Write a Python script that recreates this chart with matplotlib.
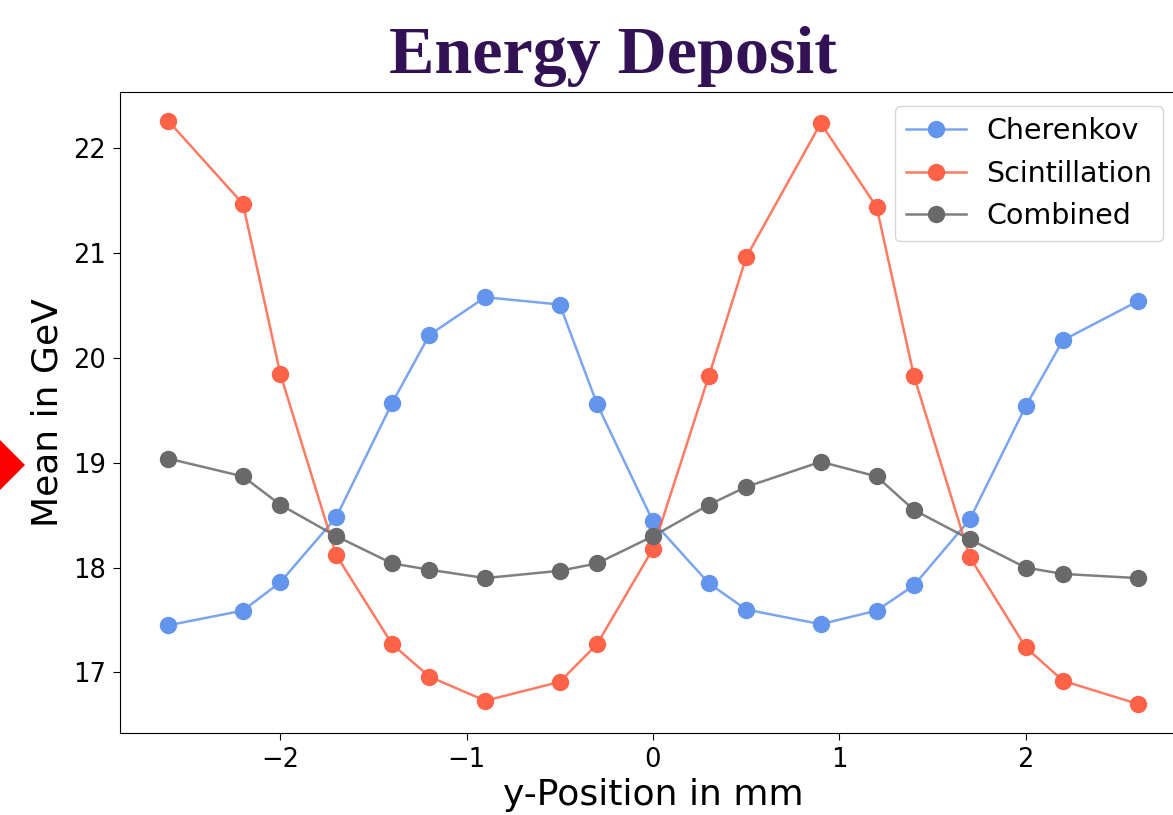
import matplotlib
matplotlib.use("Agg")
import matplotlib.pyplot as plt
from matplotlib.patches import Polygon
from matplotlib.colors import to_rgba

x_pos = [-2.6, -2.2, -2.0, -1.7, -1.4, -1.2, -0.9, -0.5, -0.3, 0.0,
         0.3, 0.5, 0.9, 1.2, 1.4, 1.7, 2.0, 2.2, 2.6]
cherenkov = [17.45, 17.59, 17.86, 18.48, 19.57, 20.22, 20.58, 20.51, 19.56, 18.44,
             17.85, 17.60, 17.46, 17.59, 17.83, 18.46, 19.54, 20.17, 20.54]
scintillation = [22.26, 21.47, 19.85, 18.12, 17.27, 16.96, 16.73, 16.91, 17.27, 18.18,
                 19.83, 20.96, 22.24, 21.44, 19.83, 18.10, 17.24, 16.92, 16.70]
combined = [19.04, 18.87, 18.60, 18.30, 18.04, 17.98, 17.90, 17.97, 18.04, 18.30,
            18.60, 18.77, 19.01, 18.87, 18.55, 18.27, 18.00, 17.94, 17.90]
series_names = ["Cherenkov", "Scintillation", "Combined"]
series_colors = ["cornflowerblue", "tomato", "dimgray"]

W, H = 1173, 815
fig = plt.figure(figsize=(W / 100, H / 100), dpi=100)
ax = fig.add_axes([120 / W, (H - 733) / H, (1186 - 120) / W, (733 - 92) / H])

for vals, name, col in zip([cherenkov, scintillation, combined], series_names, series_colors):
    ax.plot(x_pos, vals, '-o', color=to_rgba(col, 0.85), markerfacecolor=col,
            markeredgecolor=col, markersize=11.5, linewidth=1.8, label=name)

ax.tick_params(labelsize=18.5, length=5, pad=5)
ax.set_xlabel("y-Position in mm", fontsize=26, labelpad=4)
ax.set_ylabel("Mean in GeV", fontsize=26, labelpad=6)
ax.set_xticks([-2, -1, 0, 1, 2])
ax.set_yticks([17, 18, 19, 20, 21, 22])
leg = ax.legend(fontsize=20.5, loc="upper left", bbox_to_anchor=(895 / W, (H - 106) / H),
                bbox_transform=fig.transFigure, borderaxespad=0, labelspacing=0.5,
                handlelength=2.1, borderpad=0.4, handletextpad=0.7)

fig.text(0.5226, 1 - 73 / H, "Energy Deposit", ha="center", va="baseline",
         fontsize=49, fontweight="bold", family="Liberation Serif", color="#331155")

diamond = Polygon([[-25, H - 465], [0, H - 440], [25, H - 465], [0, H - 490]], closed=True,
                  transform=None, facecolor="red", edgecolor="none")
fig.patches.append(diamond)

fig.savefig("out.png", dpi=100)
